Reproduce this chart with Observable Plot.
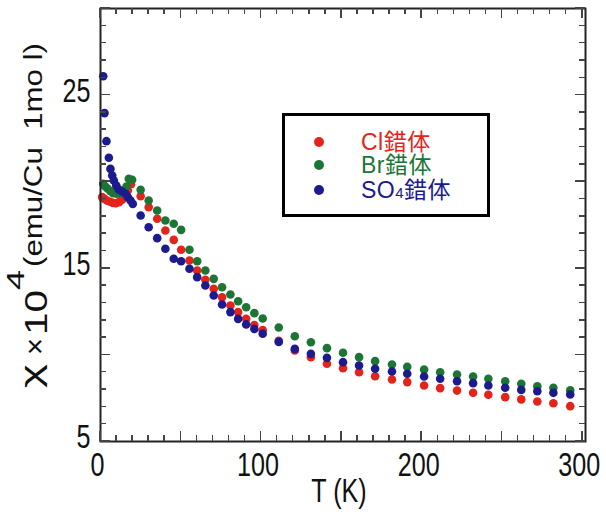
<!DOCTYPE html>
<html><head><meta charset="utf-8">
<script src="https://cdn.jsdelivr.net/npm/d3@7"></script>
<script src="https://cdn.jsdelivr.net/npm/@observablehq/plot@0.6"></script>
<style>
body{margin:0;background:#fff;}
#wrap{position:relative;width:606px;height:518px;}
#legend{position:absolute;left:282px;top:113px;width:208px;height:104px;border:3.5px solid #000;box-sizing:border-box;background:#fff;}
.row{position:absolute;left:0;height:24px;line-height:24px;font-family:"Liberation Sans","Noto Sans CJK JP",sans-serif;font-size:23px;}
.row .dot{position:absolute;left:29px;top:7px;width:10px;height:10px;border-radius:50%;}
.row .lab{position:absolute;left:76px;top:0;white-space:nowrap;letter-spacing:0.5px;}
.row sub{font-size:15px;vertical-align:baseline;}
</style></head><body><div id="wrap"></div>
<script>
const seriesNames = ["Cl錯体", "Br錯体", "SO4錯体"];
const seriesColors = ["#e5231b", "#1d7535", "#1b1a8e"];

const T_Cl = [1, 2.5, 4, 6, 7.5, 9.5, 11.5, 13.5, 15, 17, 19,
  25, 30, 35.3, 40.4, 45.6, 50.2, 55.4, 60.2, 65.3, 70.5, 75.7, 80.9, 85.7, 90.7, 95.8,
  101, 111, 121, 131, 141, 151, 161, 171, 181.5, 191, 201.5, 211.5, 222, 232, 241.5, 252, 262, 272, 282, 292.5];
const chi_Cl = [19.11, 19.01, 18.91, 18.84, 18.78, 18.76, 18.82, 18.96, 19.20, 19.49, 19.85,
  19.16, 18.53, 17.86, 17.18, 16.64, 16.07, 15.45, 14.87, 14.34, 13.82, 13.33, 12.85, 12.47, 12.08, 11.72,
  11.43, 10.82, 10.25, 9.87, 9.49, 9.23, 9.00, 8.77, 8.58, 8.43, 8.23, 8.08, 7.94, 7.81, 7.70, 7.56, 7.43, 7.31, 7.21, 7.04];

const T_Br = [1.7, 3, 4.5, 6.2, 7.9, 10, 12, 14.5, 16.2, 17.6, 19.7,
  25, 30, 35.3, 40.4, 45.6, 50.2, 55.4, 60.2, 65.3, 70.5, 75.7, 80.9, 85.7, 90.7, 95.8,
  101, 111, 121, 131, 141, 151, 161, 171, 181.5, 191, 201.5, 211.5, 222, 232, 241.5, 252, 262, 272, 282, 292.5];
const chi_Br = [19.88, 19.72, 19.59, 19.45, 19.34, 19.30, 19.34, 19.49, 19.72, 20.17, 20.11,
  19.53, 18.91, 18.34, 17.76, 17.57, 17.22, 16.07, 15.41, 14.87, 14.39, 13.91, 13.49, 13.10, 12.75, 12.41,
  12.10, 11.58, 11.08, 10.73, 10.39, 10.12, 9.87, 9.64, 9.45, 9.31, 9.15, 9.00, 8.87, 8.75, 8.62, 8.48, 8.33, 8.19, 8.10, 7.95];

const T_SO4 = [1.7, 2.5, 3.7, 5.2, 6.2, 7.3, 8.3, 9.8, 11.4, 13.5, 15.6, 17, 18.7, 20.1,
  25, 30, 35.3, 40.4, 45.6, 50.2, 55.4, 60.2, 65.3, 70.5, 75.7, 80.9, 85.7, 90.7, 95.8,
  101, 111, 121, 131, 141, 151, 161, 171, 181.5, 191, 201.5, 211.5, 222, 232, 241.5, 252, 262, 272, 282, 292.5];
const chi_SO4 = [26.09, 23.96, 22.34, 21.38, 20.74, 20.36, 20.07, 19.78, 19.55, 19.43, 19.30, 19.11, 18.91, 18.72,
  18.05, 17.37, 16.74, 16.13, 15.55, 15.41, 14.97, 14.49, 14.01, 13.43, 12.91, 12.47, 12.08, 11.76, 11.50,
  11.22, 10.75, 10.35, 10.06, 9.83, 9.58, 9.39, 9.20, 9.04, 8.91, 8.75, 8.62, 8.48, 8.37, 8.23, 8.10, 7.98, 7.90, 7.81, 7.71];

const xDomain = [0, 302];
const yDomain = [5, 30];
const xTicksMinor = d3.range(0, 301, 10);
const xTicksMajor = [0, 50, 100, 150, 200, 250, 300];
const xTickLabels = [0, 100, 200, 300];
const yTicksMinor = d3.range(5, 31, 1);
const yTicksMajor = [5, 10, 15, 20, 25, 30];
const yTickLabels = [5, 15, 25];

const rows = [];
[[T_Cl, chi_Cl], [T_Br, chi_Br], [T_SO4, chi_SO4]].forEach(([Ts, Cs], i) => {
  Ts.forEach((t, j) => rows.push({T: t, chi: Cs[j], s: seriesNames[i]}));
});

const W = 606, H = 518, mL = 100, mR = 21, mT = 8, mB = 77;
const font = '"Liberation Sans",Arial,sans-serif';
const tk = "#444";
const sMin = 6, sMaj = 10;

const chart = Plot.plot({
  width: W, height: H,
  marginLeft: mL, marginRight: mR, marginTop: mT, marginBottom: mB,
  style: {fontFamily: font, background: "white", color: "#111"},
  x: {domain: xDomain},
  y: {domain: yDomain},
  color: {domain: seriesNames, range: seriesColors},
  marks: [
    Plot.axisX(xTickLabels, {anchor: "bottom", tickSize: 0, tickPadding: 10, fontSize: 34, dx: -3, label: null, fill: "#111"}),
    Plot.axisY(yTickLabels, {anchor: "left", tickSize: 0, tickPadding: 10, fontSize: 34, dy: -4, label: null, fill: "#111"}),
    Plot.dot(rows, {x: "T", y: "chi", fill: "s", r: 4.3}),
    Plot.frame({stroke: "#222", strokeWidth: 2}),
    Plot.text(["T (K)"], {frameAnchor: "bottom", text: d => d, dy: 60, fontSize: 34, dx: -4, fill: "#111"})
  ]
});

document.getElementById("wrap").appendChild(chart);
const svg = d3.select(chart);
const sx = chart.scale("x"), sy = chart.scale("y");
const [x0, x1] = sx.range, [y0, y1] = sy.range; // y0 bottom, y1 top

// inward tick marks on all four sides, placed with Plot's own scales
const tg = svg.append("g").attr("stroke", tk).attr("stroke-width", 1.5).attr("shape-rendering", "crispEdges");
function xTicks(vals, len) {
  vals.forEach(v => {
    const px = sx.apply(v);
    tg.append("line").attr("x1", px).attr("x2", px).attr("y1", y0).attr("y2", y0 - len);
    tg.append("line").attr("x1", px).attr("x2", px).attr("y1", y1).attr("y2", y1 + len);
  });
}
function yTicks(vals, len) {
  vals.forEach(v => {
    const py = sy.apply(v);
    tg.append("line").attr("y1", py).attr("y2", py).attr("x1", x0).attr("x2", x0 + len);
    tg.append("line").attr("y1", py).attr("y2", py).attr("x1", x1).attr("x2", x1 - len);
  });
}
xTicks(xTicksMinor, sMin); xTicks(xTicksMajor, sMaj);
yTicks(yTicksMinor, sMin); yTicks(yTicksMajor, sMaj);

// narrow the tall tick labels like the reference
svg.selectAll('g[aria-label="x-axis tick label"] text, g[aria-label="y-axis tick label"] text, g[aria-label="text"] text')
  .each(function() {
    const t = d3.select(this);
    const tr = t.attr("transform") || "";
    t.attr("transform", tr + " scale(0.74,1)");
  });

// y-axis title, pieces placed along the left edge (reading upward)
function ytext(str, yStart, len, baseX, size) {
  svg.append("text")
    .attr("transform", `translate(${baseX},${yStart}) rotate(-90)`)
    .attr("text-anchor", "start")
    .attr("font-size", size)
    .attr("fill", "#111")
    .attr("textLength", len)
    .attr("lengthAdjust", "spacingAndGlyphs")
    .style("font-family", font)
    .text(str);
}
ytext("χ", 388, 24, 41, 30);
ytext("×", 355, 17, 45, 30);
ytext("10", 335, 45, 47, 32);
ytext("4", 290, 20, 24, 24);
ytext("(emu/Cu\u00a0\u00a01mo l)", 267, 224, 42, 26);

// legend
const legend = document.createElement("div");
legend.id = "legend";
const rowTops = [14, 37, 62];
seriesNames.forEach((name, i) => {
  const r = document.createElement("div");
  r.className = "row";
  r.style.top = rowTops[i] + "px";
  r.style.color = seriesColors[i];
  const d = document.createElement("div");
  d.className = "dot"; d.style.background = seriesColors[i];
  const l = document.createElement("div");
  l.className = "lab";
  l.innerHTML = name.replace("4", "<sub>4</sub>");
  r.appendChild(d); r.appendChild(l);
  legend.appendChild(r);
});
document.getElementById("wrap").appendChild(legend);
</script>
</body></html>
